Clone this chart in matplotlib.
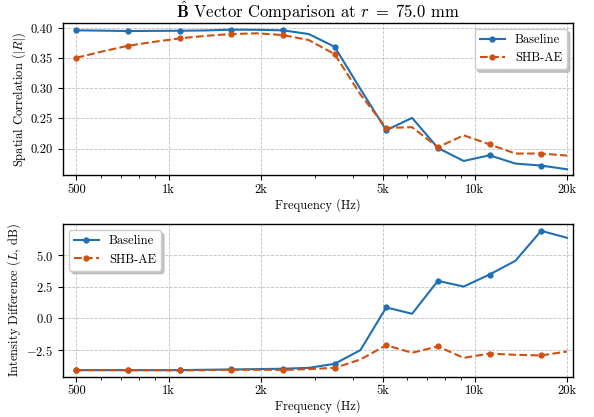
import matplotlib
matplotlib.use('Agg')
import matplotlib.pyplot as plt
from matplotlib.ticker import NullFormatter

plt.rcParams['font.family'] = 'serif'
plt.rcParams['font.serif'] = ['cmr10']
plt.rcParams['mathtext.fontset'] = 'cm'
plt.rcParams['axes.formatter.use_mathtext'] = True
plt.rcParams['axes.unicode_minus'] = True

# log spaced bands, 500 Hz .. 20 kHz
freqs = [500, 607, 737, 895, 1087, 1320, 1603, 1946, 2363, 2870,
         3485, 4231, 5138, 6239, 7576, 9199, 11171, 13564, 16470, 20000]

# spatial correlation |R|
corr_base = [0.3967, 0.3962, 0.3955, 0.3958, 0.3960, 0.3965, 0.3978, 0.3975, 0.3967, 0.3905,
             0.3693, 0.2990, 0.2305, 0.2510, 0.2010, 0.1793, 0.1888, 0.1750, 0.1717, 0.1655]
corr_shb = [0.3510, 0.3615, 0.3710, 0.3775, 0.3833, 0.3875, 0.3905, 0.3917, 0.3888, 0.3805,
            0.3570, 0.2900, 0.2343, 0.2355, 0.2022, 0.2220, 0.2070, 0.1917, 0.1917, 0.1883]

# intensity difference L (dB)
idiff_base = [-4.08, -4.08, -4.08, -4.08, -4.08, -4.05, -4.03, -4.0, -3.97, -3.9,
              -3.58, -2.50, 0.87, 0.37, 2.97, 2.52, 3.47, 4.55, 6.92, 6.37]
idiff_shb = [-4.08, -4.08, -4.09, -4.09, -4.10, -4.08, -4.05, -4.05, -4.06, -4.0,
             -3.90, -3.24, -2.11, -2.71, -2.21, -3.11, -2.77, -2.87, -2.92, -2.61]

tick_freqs = [500, 1000, 2000, 5000, 10000, 20000]
tick_labels = ['500', '1k', '2k', '5k', '10k', '20k']

blue = '#1f6fb4'
orange = '#d1500f'

fig, (ax1, ax2) = plt.subplots(2, 1, figsize=(5.94, 4.17), dpi=100)
fig.subplots_adjust(left=0.1056, right=0.965, top=0.9456, bottom=0.0966, hspace=0.32)

for ax, yb, ys, ylab, loc in [(ax1, corr_base, corr_shb, r'Spatial Correlation ($|R|$)', 'upper right'),
                              (ax2, idiff_base, idiff_shb, r'Intensity Difference ($L$, dB)', 'upper left')]:
    ax.plot(freqs, yb, color=blue, linewidth=1.5, marker='o', markersize=3.5,
            markevery=2, label='Baseline')
    ax.plot(freqs, ys, color=orange, linewidth=1.5, linestyle='--', marker='o',
            markersize=3.5, markevery=2, label='SHB-AE')
    ax.set_xscale('log')
    ax.set_xlim(451, 20960)
    ax.set_xticks(tick_freqs)
    ax.set_xticklabels(tick_labels)
    ax.xaxis.set_minor_formatter(NullFormatter())
    ax.set_xlabel('Frequency (Hz)', fontsize=9, labelpad=1.5)
    ax.set_ylabel(ylab, fontsize=9, labelpad=2)
    ax.tick_params(labelsize=9)
    ax.tick_params(axis='x', which='major', pad=2.5)
    ax.grid(True, which='major', linestyle='--', color='#b0b0b0', linewidth=0.6, alpha=0.8)
    ax.legend(loc=loc, fontsize=9, fancybox=True, edgecolor='#cccccc',
              shadow={'color': '#bbbbbb', 'alpha': 0.9})
    for s in ax.spines.values():
        s.set_linewidth(1.0)

ax1.set_ylim(0.1555, 0.4094)
ax1.set_yticks([0.20, 0.25, 0.30, 0.35, 0.40])
ax1.set_yticklabels(['0.20', '0.25', '0.30', '0.35', '0.40'])
ax2.set_ylim(-4.6, 7.45)
ax2.set_yticks([-2.5, 0.0, 2.5, 5.0])

ax1.set_title(r'$\hat{\mathbf{B}}$ Vector Comparison at $r\;=\;75.0$ mm', fontsize=12, pad=3)

fig.savefig('out.png', dpi=100)
